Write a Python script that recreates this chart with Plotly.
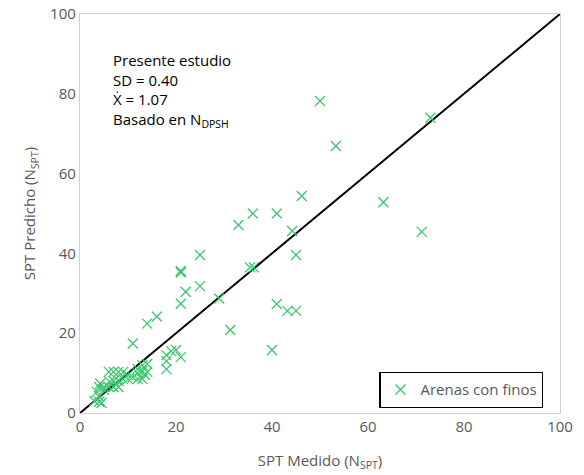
import plotly.graph_objects as go

spt_medido = [3, 4, 4.5, 4, 5, 3.5, 4, 5, 6, 7, 8, 6, 7, 8, 9, 7, 8, 9, 10, 11, 12, 13,
              12, 13, 14, 13, 11, 14, 16, 18, 18, 18, 19, 20, 21, 21, 21, 21, 22, 25, 25,
              29, 31.3, 33, 35.4, 36.2, 36, 40, 41, 41, 43.2, 45, 44.2, 45, 46.2, 50, 53.3,
              63.2, 71.2, 73, 14, 12, 10, 4.2, 6.2, 13.5]
spt_predicho = [3, 2.8, 2.5, 4.1, 5.8, 5.3, 6.5, 6.5, 6.5, 6.5, 6.5, 10.3, 10.3, 10.3, 10.3,
                8, 8, 8.5, 8.5, 9, 8.5, 8.5, 10, 10.5, 10.3, 12, 17.4, 22.4, 24.2, 11, 13,
                14.5, 15.5, 15.8, 14, 27.4, 35.2, 35.6, 30.4, 39.6, 31.8, 28.7, 20.8, 47.1,
                36.5, 36.5, 50, 15.8, 27.3, 50, 25.6, 25.6, 45.6, 39.6, 54.4, 78.2, 66.9,
                52.8, 45.4, 74, 12.3, 11, 9.5, 7.4, 7.8, 9.6]
linea_x = [0, 100]
linea_y = [0, 100]
ticks = [0, 20, 40, 60, 80, 100]

grey = "#595959"
axis_col = "#d0d0d0"
green = "#3CC46E"
fam = "Open Sans, Noto Sans, sans-serif"

fig = go.Figure()
fig.add_trace(go.Scatter(x=linea_x, y=linea_y, mode="lines",
                         line=dict(color="black", width=2), showlegend=False,
                         hoverinfo="skip"))
fig.add_trace(go.Scatter(x=spt_medido, y=spt_predicho, mode="markers",
                         name="Arenas con finos",
                         marker=dict(symbol="x-thin-open", size=10, color=green,
                                     line=dict(color=green, width=1.3))))

fig.update_layout(
    width=584, height=475,
    margin=dict(l=80, r=24, t=14, b=62, autoexpand=False),
    paper_bgcolor="white", plot_bgcolor="white",
    font=dict(family=fam, size=14, color=grey),
    showlegend=True,
    legend=dict(x=0.965, y=0.0125, xanchor="right", yanchor="bottom",
                bordercolor="black", borderwidth=1.3, bgcolor="white",
                font=dict(size=15, color=grey), itemwidth=30,
                tracegroupgap=0, valign="middle"),
    xaxis=dict(range=[0, 100], tickvals=ticks, showgrid=False, zeroline=False,
               showline=True, linecolor=axis_col, linewidth=1.3, mirror=True,
               ticks="", automargin=False, tickfont=dict(size=15, color=grey),
               title=dict(text="SPT Medido (N<sub>SPT</sub>)",
                          font=dict(size=15, color=grey), standoff=20)),
    yaxis=dict(range=[0, 100], tickvals=ticks, showgrid=False, zeroline=False,
               showline=True, linecolor=axis_col, linewidth=1.3, mirror=True,
               ticks="", automargin=False, tickfont=dict(size=15, color=grey),
               title=dict(text="SPT Predicho (N<sub>SPT</sub>)",
                          font=dict(size=15, color=grey), standoff=10)),
)

fig.add_annotation(
    x=0.065, y=0.915, xref="paper", yref="paper", xanchor="left", yanchor="top",
    align="left", showarrow=False,
    text="Presente estudio<br>SD = 0.40<br>Ẋ = 1.07<br>Basado en N<sub>DPSH</sub>",
    font=dict(size=15, color="black"),
)

fig.write_html("out.html", config={"displayModeBar": False},
               post_script="document.body.style.margin='0';document.body.style.overflow='hidden';")
